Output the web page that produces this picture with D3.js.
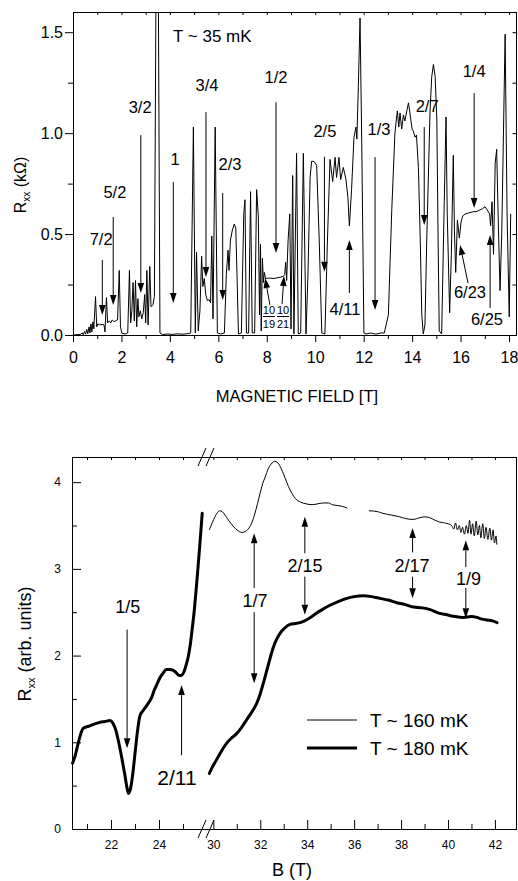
<!DOCTYPE html>
<html>
<head>
<meta charset="utf-8">
<script src="https://cdnjs.cloudflare.com/ajax/libs/d3/7.8.5/d3.min.js"></script>
<style>
    body { margin: 0; background: #fff; }
    svg text { font-family: 'Liberation Sans', Arial, Helvetica, sans-serif; fill: #000; }
</style>
</head>
<body>
<div id="chart"></div>
<script>
// ---- top panel: R_xx (kOhm) vs B (T) at T ~ 35 mK ----
const trace35mK = [
    [0.00, 0.000], [0.30, 0.003], [0.38, 0.010], [0.42, 0.002], [0.48, 0.018], [0.52, 0.004],
    [0.57, 0.028], [0.61, 0.006], [0.66, 0.040], [0.70, 0.010], [0.74, 0.055], [0.78, 0.015],
    [0.82, 0.065], [0.86, 0.030], [0.93, 0.190], [0.98, 0.040], [1.02, 0.055], [1.10, 0.050],
    [1.20, 0.052], [1.28, 0.050], [1.32, 0.015], [1.38, 0.185], [1.43, 0.060], [1.50, 0.070],
    [1.56, 0.060], [1.62, 0.075], [1.70, 0.065], [1.78, 0.072], [1.84, 0.075], [1.91, 0.320],
    [1.96, 0.040], [2.02, 0.008], [2.15, 0.005], [2.26, 0.010], [2.33, 0.320], [2.38, 0.060],
    [2.43, 0.120], [2.48, 0.260], [2.53, 0.070], [2.58, 0.270], [2.63, 0.040], [2.68, 0.180],
    [2.72, 0.090], [2.78, 0.120], [2.84, 0.080], [2.90, 0.110], [2.96, 0.200], [3.00, 0.060],
    [3.05, 0.320], [3.10, 0.050], [3.17, 0.340], [3.22, 0.140], [3.30, 0.150], [3.36, 0.190],
    [3.43, 1.800], [3.52, 1.800], [3.59, 0.010], [3.70, 0.002], [3.90, 0.005], [4.10, 0.003],
    [4.30, 0.006], [4.50, 0.004], [4.70, 0.006], [4.86, 0.010], [4.97, 1.030], [5.05, 0.010],
    [5.10, 0.410], [5.17, 0.020], [5.24, 0.120], [5.31, 0.390], [5.36, 0.240], [5.42, 0.280],
    [5.48, 0.200], [5.55, 0.170], [5.62, 0.175], [5.68, 0.160], [5.73, 0.490], [5.78, 0.080],
    [5.87, 1.030], [5.96, 0.010], [6.10, 0.005], [6.25, 0.010], [6.33, 0.300], [6.40, 0.420],
    [6.44, 0.320], [6.50, 0.470], [6.58, 0.520], [6.66, 0.550], [6.72, 0.530], [6.77, 0.300],
    [6.83, 0.005], [6.95, 0.010], [7.05, 0.600], [7.10, 0.670], [7.16, 0.010], [7.25, 0.010],
    [7.33, 0.710], [7.40, 0.010], [7.50, 0.010], [7.58, 0.720], [7.65, 0.590], [7.70, 0.100],
    [7.74, 0.450], [7.77, 0.020], [7.82, 0.380], [7.86, 0.260], [7.90, 0.310], [7.95, 0.280],
    [8.10, 0.282], [8.30, 0.280], [8.50, 0.285], [8.68, 0.290], [8.74, 0.300], [8.78, 0.360],
    [8.82, 0.270], [8.88, 0.470], [8.95, 0.600], [9.00, 0.030], [9.07, 0.790], [9.12, 0.005],
    [9.23, 0.900], [9.30, 0.005], [9.40, 0.010], [9.51, 0.900], [9.62, 0.005], [9.70, 0.300],
    [9.79, 0.780], [9.85, 0.860], [9.95, 0.860], [10.06, 0.840], [10.17, 0.450], [10.27, 0.010],
    [10.40, 0.005], [10.50, 0.450], [10.61, 0.870], [10.72, 0.760], [10.82, 0.880], [10.88, 0.780],
    [10.98, 0.880], [11.05, 0.770], [11.16, 0.830], [11.27, 0.770], [11.35, 0.680], [11.41, 0.540],
    [11.50, 0.720], [11.60, 0.980], [11.68, 1.030], [11.72, 0.970], [11.78, 1.230], [11.85, 1.570],
    [11.92, 0.960], [12.01, 0.010], [12.10, 0.005], [12.30, 0.010], [12.50, 0.004], [12.70, 0.010],
    [12.85, 0.010], [13.02, 0.100], [13.16, 0.620], [13.29, 1.000], [13.39, 1.110], [13.45, 1.030],
    [13.50, 1.100], [13.57, 1.020], [13.64, 1.090], [13.70, 1.060], [13.78, 1.110], [13.85, 1.150],
    [13.92, 1.090], [14.00, 1.020], [14.05, 1.010], [14.12, 0.980], [14.18, 0.990], [14.26, 0.830],
    [14.33, 0.500], [14.40, 0.100], [14.46, 0.005], [14.53, 0.050], [14.60, 0.450], [14.74, 1.110],
    [14.81, 1.280], [14.88, 1.340], [14.95, 1.280], [15.02, 1.070], [15.07, 0.500], [15.12, 0.020],
    [15.22, 0.005], [15.32, 0.620], [15.40, 1.080], [15.45, 0.600], [15.55, 0.110], [15.62, 0.400],
    [15.70, 0.890], [15.75, 0.500], [15.80, 0.310], [15.87, 0.570], [15.95, 0.480], [16.02, 0.560],
    [16.09, 0.590], [16.20, 0.600], [16.35, 0.605], [16.50, 0.610], [16.67, 0.612], [16.80, 0.620],
    [16.90, 0.625], [17.01, 0.635], [17.10, 0.620], [17.20, 0.600], [17.24, 0.540], [17.30, 0.660],
    [17.36, 0.400], [17.43, 0.850], [17.49, 0.920], [17.56, 0.550], [17.63, 0.220], [17.70, 0.500],
    [17.84, 1.490], [17.92, 0.600], [18.01, 0.090], [18.07, 0.600]
];

const topYMajor = [0, 0.5, 1.0, 1.5];
const topYMinor = [0.25, 0.75, 1.25];
const topXMajor = [0, 2, 4, 6, 8, 10, 12, 14, 16, 18];
const topXMinor = [1, 3, 5, 7, 9, 11, 13, 15, 17];

// filling factors: label position and arrow (tail -> tip), all in (B, R)
const topNotes = [
    { text: '7/2', b: 1.16, r: 0.446, arrow: [1.21, 0.371, 1.21, 0.099] },
    { text: '5/2', b: 1.73, r: 0.678, arrow: [1.66, 0.584, 1.66, 0.149] },
    { text: '3/2', b: 2.77, r: 1.100, arrow: [2.80, 0.990, 2.80, 0.208] },
    { text: '1', b: 4.21, r: 0.840, arrow: [4.14, 0.757, 4.14, 0.158] },
    { text: '3/4', b: 5.53, r: 1.210, arrow: [5.49, 1.104, 5.49, 0.287] },
    { text: '2/3', b: 6.48, r: 0.817, arrow: [6.18, 0.703, 6.18, 0.173] },
    { text: '1/2', b: 8.38, r: 1.250, arrow: [8.38, 1.153, 8.38, 0.406] },
    { text: '2/5', b: 10.40, r: 0.980, arrow: [10.38, 0.883, 10.38, 0.313] },
    { text: '4/11', b: 11.23, r: 0.099, arrow: [11.41, 0.208, 11.41, 0.470] },
    { text: '1/3', b: 12.63, r: 0.990, arrow: [12.47, 0.881, 12.47, 0.124] },
    { text: '2/7', b: 14.62, r: 1.104, arrow: [14.50, 1.030, 14.50, 0.545] },
    { text: '1/4', b: 16.56, r: 1.277, arrow: [16.56, 1.198, 16.56, 0.629] },
    { text: '6/23', b: 16.39, r: 0.183, arrow: [16.31, 0.257, 15.98, 0.446] },
    { text: '6/25', b: 17.09, r: 0.050, arrow: [17.22, 0.134, 17.22, 0.495] }
];
const topFractions = [
    { num: '10', den: '19', b: 8.09, arrow: [8.13, 0.149, 7.93, 0.282] },
    { num: '10', den: '21', b: 8.67, arrow: [8.63, 0.153, 8.71, 0.292] }
];

// ---- bottom panel: R_xx (arb. units) vs B (T), broken axis ----
const trace180mKLow = [
    [20.40, 0.76], [20.48, 0.82], [20.60, 0.95], [20.72, 1.08], [20.84, 1.16], [21.00, 1.18],
    [21.12, 1.19], [21.30, 1.21], [21.53, 1.23], [21.75, 1.24], [21.95, 1.25], [22.08, 1.22],
    [22.20, 1.14], [22.32, 1.00], [22.45, 0.82], [22.58, 0.62], [22.67, 0.47], [22.73, 0.41],
    [22.80, 0.45], [22.90, 0.62], [23.00, 0.87], [23.10, 1.12], [23.20, 1.30], [23.35, 1.37],
    [23.48, 1.42], [23.60, 1.47], [23.70, 1.52], [23.80, 1.60], [23.90, 1.66], [24.05, 1.75],
    [24.18, 1.80], [24.30, 1.84], [24.45, 1.84], [24.60, 1.83], [24.72, 1.80], [24.85, 1.77],
    [24.93, 1.77], [25.02, 1.80], [25.12, 1.88], [25.22, 1.99], [25.30, 2.12], [25.38, 2.30],
    [25.47, 2.52], [25.56, 2.80], [25.65, 3.10], [25.73, 3.38], [25.80, 3.64]
];
const trace180mKHigh = [
    [29.83, 0.64], [29.95, 0.71], [30.14, 0.80], [30.35, 0.90], [30.57, 0.99], [30.78, 1.05],
    [30.99, 1.10], [31.20, 1.17], [31.42, 1.26], [31.62, 1.34], [31.85, 1.45], [32.00, 1.56],
    [32.15, 1.70], [32.28, 1.83], [32.42, 1.97], [32.56, 2.10], [32.70, 2.19], [32.85, 2.26],
    [33.05, 2.32], [33.27, 2.36], [33.50, 2.37], [33.70, 2.38], [33.96, 2.41], [34.20, 2.45],
    [34.40, 2.49], [34.70, 2.54], [34.97, 2.58], [35.30, 2.62], [35.69, 2.66], [36.00, 2.68],
    [36.39, 2.69], [36.75, 2.68], [37.10, 2.66], [37.45, 2.64], [37.82, 2.61], [38.15, 2.59],
    [38.53, 2.56], [38.90, 2.55], [39.24, 2.53], [39.60, 2.49], [39.95, 2.47], [40.30, 2.45],
    [40.66, 2.44], [41.00, 2.45], [41.23, 2.44], [41.45, 2.42], [41.66, 2.41], [41.90, 2.40],
    [42.09, 2.38]
];
const trace160mKA = [
    [29.83, 3.45], [29.95, 3.53], [30.07, 3.60], [30.18, 3.65], [30.28, 3.67], [30.38, 3.66],
    [30.50, 3.62], [30.65, 3.56], [30.85, 3.49], [31.05, 3.44], [31.21, 3.42], [31.35, 3.43],
    [31.49, 3.46], [31.62, 3.52], [31.75, 3.62], [31.88, 3.75], [32.00, 3.88], [32.10, 3.98],
    [32.21, 4.06], [32.35, 4.16], [32.50, 4.22], [32.62, 4.24], [32.72, 4.23], [32.85, 4.18],
    [32.95, 4.12], [33.07, 4.04], [33.20, 3.95], [33.35, 3.87], [33.50, 3.81], [33.71, 3.77],
    [33.95, 3.75], [34.21, 3.74], [34.45, 3.75], [34.71, 3.76], [34.90, 3.76], [35.07, 3.74],
    [35.30, 3.73], [35.50, 3.72], [35.71, 3.70]
];
const trace160mKB = [
    [36.63, 3.67], [37.00, 3.66], [37.23, 3.64], [37.60, 3.62], [37.94, 3.60], [38.20, 3.58],
    [38.51, 3.57], [38.80, 3.59], [39.00, 3.60], [39.22, 3.59], [39.45, 3.56], [39.65, 3.54],
    [39.85, 3.53], [40.00, 3.52], [40.15, 3.50], [40.25, 3.46], [40.32, 3.53], [40.40, 3.45],
    [40.48, 3.50], [40.55, 3.42], [40.62, 3.48], [40.70, 3.40], [40.78, 3.50], [40.85, 3.41],
    [40.92, 3.56], [40.98, 3.40], [41.05, 3.52], [41.12, 3.38], [41.20, 3.55], [41.27, 3.39],
    [41.34, 3.50], [41.40, 3.36], [41.48, 3.52], [41.55, 3.35], [41.62, 3.48], [41.70, 3.34],
    [41.78, 3.47], [41.85, 3.33], [41.92, 3.45], [41.98, 3.30], [42.05, 3.38], [42.08, 3.28]
];

const botYMajor = [0, 1, 2, 3, 4];
const botYMinor = [0.5, 1.5, 2.5, 3.5];
const botXMajorLow = [22, 24];
const botXMinorLow = [21, 23, 25];
const botXMajorHigh = [30, 32, 34, 36, 38, 40, 42];
const botXMinorHigh = [31, 33, 35, 37, 39, 41];

// label (b, r) and arrows (tail b, r -> tip b, r)
const botNotes = [
    { text: '1/5', b: 22.70, r: 2.49, size: 18, arrows: [[22.67, 2.30, 22.67, 0.93]] },
    { text: '2/11', b: 24.75, r: 0.51, size: 21, arrows: [[24.94, 0.85, 24.94, 1.66]] },
    { text: '1/7', b: 31.78, r: 2.56, size: 18, arrows: [[31.74, 2.78, 31.74, 3.41], [31.74, 2.50, 31.74, 1.68]] },
    { text: '2/15', b: 33.91, r: 2.96, size: 18, arrows: [[33.90, 3.18, 33.90, 3.60], [33.90, 2.91, 33.90, 2.47]] },
    { text: '2/17', b: 38.47, r: 2.96, size: 18, arrows: [[38.49, 3.19, 38.49, 3.47], [38.49, 2.91, 38.49, 2.66]] },
    { text: '1/9', b: 40.87, r: 2.81, size: 18, arrows: [[40.76, 3.02, 40.76, 3.33], [40.76, 2.78, 40.76, 2.43]] }
];

const svg = d3.select('#chart')
    .append('svg')
    .attr('width', 518)
    .attr('height', 881);

function drawArrow(g, x0, y0, x1, y1) {
    const dx = x1 - x0, dy = y1 - y0;
    const len = Math.hypot(dx, dy);
    const ux = dx / len, uy = dy / len;
    const hl = 10, hw = 3.3;
    const bx = x1 - ux * hl, by = y1 - uy * hl;
    g.append('line')
        .attr('x1', x0).attr('y1', y0)
        .attr('x2', bx).attr('y2', by)
        .attr('stroke', '#000')
        .attr('stroke-width', 1);
    g.append('path')
        .attr('d', `M${x1},${y1}L${bx - uy * hw},${by + ux * hw}L${bx + uy * hw},${by - ux * hw}Z`)
        .attr('fill', '#000');
}

function styleAxis(g, size) {
    g.select('.domain').remove();
    g.selectAll('.tick line').attr('stroke', '#000');
    g.selectAll('text').attr('font-size', size);
}

// ================= top panel =================
const p1 = { left: 73, right: 517, top: 12, bottom: 335 };
const xTop = d3.scaleLinear().domain([0, 18.33]).range([p1.left, p1.right]);
const yTop = d3.scaleLinear().domain([0, 1.6]).range([p1.bottom, p1.top]);

const g1 = svg.append('g');

g1.append('clipPath').attr('id', 'clip-top')
    .append('rect')
    .attr('x', p1.left).attr('y', p1.top)
    .attr('width', p1.right - p1.left).attr('height', p1.bottom - p1.top);

g1.append('path')
    .datum(trace35mK)
    .attr('clip-path', 'url(#clip-top)')
    .attr('fill', 'none')
    .attr('stroke', '#000')
    .attr('stroke-width', 1)
    .attr('stroke-linejoin', 'round')
    .attr('d', d3.line().x(d => xTop(d[0])).y(d => yTop(d[1])));

// axes
g1.append('g').attr('transform', `translate(${p1.left},0)`)
    .call(d3.axisLeft(yTop).tickValues(topYMajor).tickSize(8).tickPadding(2).tickFormat(d3.format('.1f')))
    .call(g => styleAxis(g, 16));
g1.append('g').attr('transform', `translate(${p1.left},0)`)
    .call(d3.axisLeft(yTop).tickValues(topYMinor).tickSize(5).tickFormat(''))
    .call(g => styleAxis(g, 16));
g1.append('g').attr('transform', `translate(0,${p1.bottom})`)
    .call(d3.axisBottom(xTop).tickValues(topXMajor).tickSize(7).tickPadding(10).tickFormat(d3.format('d')))
    .call(g => styleAxis(g, 16));
g1.append('g').attr('transform', `translate(0,${p1.bottom})`)
    .call(d3.axisBottom(xTop).tickValues(topXMinor).tickSize(4).tickFormat(''))
    .call(g => styleAxis(g, 16));
g1.append('g').attr('transform', `translate(0,${p1.top})`)
    .call(d3.axisTop(xTop).tickValues(d3.range(0, 19)).tickSize(-3).tickFormat(''))
    .call(g => styleAxis(g, 16));
g1.append('g').attr('transform', `translate(${p1.right - 0.5},0)`)
    .call(d3.axisRight(yTop).tickValues(topYMajor.concat(topYMinor)).tickSize(-4).tickFormat(''))
    .call(g => styleAxis(g, 16));

g1.append('rect')
    .attr('x', p1.left + 0.5).attr('y', p1.top + 0.5)
    .attr('width', p1.right - p1.left - 1).attr('height', p1.bottom - p1.top)
    .attr('fill', 'none')
    .attr('stroke', '#000');

// annotations
topNotes.forEach(n => {
    const [b0, r0, b1, r1] = n.arrow;
    drawArrow(g1, xTop(b0), yTop(r0), xTop(b1), yTop(r1));
    g1.append('text')
        .attr('x', xTop(n.b))
        .attr('y', yTop(n.r))
        .attr('text-anchor', 'middle')
        .attr('font-size', 16.5)
        .text(n.text);
});

topFractions.forEach(f => {
    const [b0, r0, b1, r1] = f.arrow;
    drawArrow(g1, xTop(b0), yTop(r0), xTop(b1), yTop(r1));
    const cx = xTop(f.b);
    g1.append('text').attr('x', cx).attr('y', yTop(0.104))
        .attr('text-anchor', 'middle').attr('font-size', 11).text(f.num);
    g1.append('line')
        .attr('x1', cx - 6).attr('x2', cx + 6)
        .attr('y1', Math.round(yTop(0.094)) + 0.5).attr('y2', Math.round(yTop(0.094)) + 0.5)
        .attr('stroke', '#000');
    g1.append('text').attr('x', cx).attr('y', yTop(0.035))
        .attr('text-anchor', 'middle').attr('font-size', 11).text(f.den);
});

g1.append('text')
    .attr('x', 173).attr('y', 42)
    .attr('font-size', 17)
    .text('T ~ 35 mK');

const yl1 = g1.append('text')
    .attr('transform', 'translate(26,185) rotate(-90)')
    .attr('text-anchor', 'middle')
    .attr('font-size', 16);
yl1.append('tspan').text('R');
yl1.append('tspan').attr('font-size', 10).attr('dy', 4).text('xx');
yl1.append('tspan').attr('dy', -4).text(' (kΩ)');

g1.append('text')
    .attr('x', 297).attr('y', 402)
    .attr('text-anchor', 'middle')
    .attr('font-size', 16.5)
    .text('MAGNETIC FIELD [T]');

// ================= bottom panel =================
const p2 = { left: 72, right: 517, top: 457, bottom: 829, brk: 207 };
const xLow = d3.scaleLinear().domain([20.375, 26.0]).range([p2.left, p2.brk]);
const xHigh = d3.scaleLinear().domain([29.73, 42.94]).range([p2.brk, p2.right]);
const xB = b => (b < 28 ? xLow(b) : xHigh(b));
const yBot = d3.scaleLinear().domain([0, 4.29]).range([p2.bottom, p2.top]);

const g2 = svg.append('g');
const lineBot = d3.line().x(d => xB(d[0])).y(d => yBot(d[1])).curve(d3.curveMonotoneX);

[trace160mKA, trace160mKB].forEach(tr => {
    g2.append('path').datum(tr)
        .attr('fill', 'none').attr('stroke', '#000').attr('stroke-width', 1)
        .attr('d', lineBot);
});
[trace180mKLow, trace180mKHigh].forEach(tr => {
    g2.append('path').datum(tr)
        .attr('fill', 'none').attr('stroke', '#000').attr('stroke-width', 3)
        .attr('stroke-linecap', 'round')
        .attr('d', lineBot);
});

// axes
g2.append('g').attr('transform', `translate(${p2.left},0)`)
    .call(d3.axisLeft(yBot).tickValues(botYMajor).tickSize(-9).tickPadding(11).tickFormat(d3.format('d')))
    .call(g => styleAxis(g, 12));
g2.append('g').attr('transform', `translate(${p2.left},0)`)
    .call(d3.axisLeft(yBot).tickValues(botYMinor).tickSize(-5).tickFormat(''))
    .call(g => styleAxis(g, 12));
[[xLow, botXMajorLow, botXMinorLow, d3.range(21, 26)], [xHigh, botXMajorHigh, botXMinorHigh, d3.range(30, 43)]]
    .forEach(([sc, major, minor, topTicks]) => {
        g2.append('g').attr('transform', `translate(0,${p2.bottom})`)
            .call(d3.axisBottom(sc).tickValues(major).tickSize(-9).tickPadding(11).tickFormat(d3.format('d')))
            .call(g => styleAxis(g, 12));
        g2.append('g').attr('transform', `translate(0,${p2.bottom})`)
            .call(d3.axisBottom(sc).tickValues(minor).tickSize(-5).tickFormat(''))
            .call(g => styleAxis(g, 12));
        g2.append('g').attr('transform', `translate(0,${p2.top})`)
            .call(d3.axisTop(sc).tickValues(topTicks).tickSize(-3).tickFormat(''))
            .call(g => styleAxis(g, 12));
    });

g2.append('rect')
    .attr('x', p2.left + 0.5).attr('y', p2.top + 0.5)
    .attr('width', p2.right - p2.left - 1).attr('height', p2.bottom - p2.top)
    .attr('fill', 'none')
    .attr('stroke', '#000');

// axis break marks
[p2.top, p2.bottom].forEach(yy => {
    [-5, 3].forEach(off => {
        g2.append('line')
            .attr('x1', p2.brk + off - 4).attr('y1', yy + 9)
            .attr('x2', p2.brk + off + 4).attr('y2', yy - 9)
            .attr('stroke', '#000')
            .attr('stroke-width', 1);
    });
});

// annotations
botNotes.forEach(n => {
    n.arrows.forEach(([b0, r0, b1, r1]) => {
        drawArrow(g2, xB(b0), yBot(r0), xB(b1), yBot(r1));
    });
    g2.append('text')
        .attr('x', xB(n.b))
        .attr('y', yBot(n.r))
        .attr('text-anchor', 'middle')
        .attr('font-size', n.size)
        .text(n.text);
});

// legend
const legend = g2.append('g');
[['T ~ 160 mK', 1, 720], ['T ~ 180 mK', 3, 748]].forEach(([label, w, yy]) => {
    legend.append('line')
        .attr('x1', 307).attr('x2', 357)
        .attr('y1', yy).attr('y2', yy)
        .attr('stroke', '#000')
        .attr('stroke-width', w);
    legend.append('text')
        .attr('x', 370).attr('y', yy + 7)
        .attr('font-size', 19)
        .text(label);
});

const yl2 = g2.append('text')
    .attr('transform', 'translate(31,644) rotate(-90)')
    .attr('text-anchor', 'middle')
    .attr('font-size', 18);
yl2.append('tspan').text('R');
yl2.append('tspan').attr('font-size', 11).attr('dy', 4).text('xx');
yl2.append('tspan').attr('dy', -4).text(' (arb. units)');

g2.append('text')
    .attr('x', 292).attr('y', 876)
    .attr('text-anchor', 'middle')
    .attr('font-size', 18)
    .text('B (T)');
</script>
</body>
</html>
